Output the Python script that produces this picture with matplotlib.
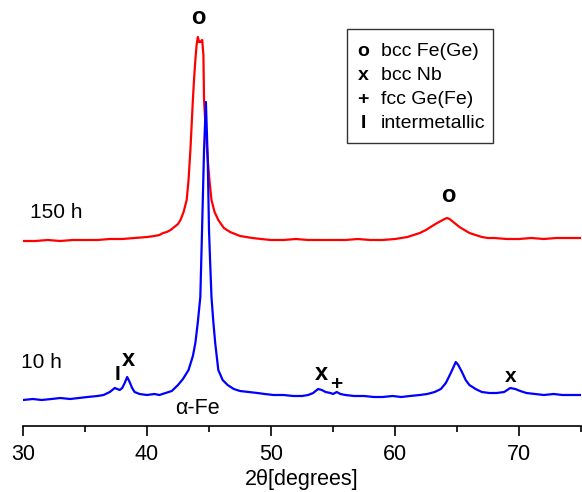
import matplotlib.pyplot as plt
from matplotlib.patches import Rectangle

plt.rcParams['font.family'] = ['Liberation Sans', 'DejaVu Sans']

# 2theta (degrees) and intensity (arb. units)
two_theta_10h = [30, 30.8, 31.5, 32.3, 33, 33.8, 34.5, 35.2, 36, 36.5, 37, 37.2, 37.4, 37.6,
                 37.8, 38.0, 38.2, 38.4, 38.6, 38.8, 39.0, 39.4, 40, 40.6, 41, 41.5, 42,
                 42.5, 42.9, 43.35, 43.7, 43.9, 44.1, 44.3, 44.44, 44.6, 44.75, 44.9, 45.0,
                 45.1, 45.2, 45.35, 45.5, 45.75, 46.1, 46.5, 47, 47.5, 48.2, 48.9, 49.5,
                 50.2, 51, 51.8, 52.5, 53, 53.4, 53.8, 54.1, 54.4, 54.8, 55.0, 55.3, 55.6,
                 56, 56.7, 57.5, 58.3, 59, 59.8, 60.5, 61.2, 62, 62.6, 63.2, 63.7, 64.1,
                 64.5, 64.9, 65.1, 65.4, 65.7, 66, 66.5, 67, 67.6, 68.2, 68.8, 69.3, 69.7,
                 70.1, 70.6, 71.3, 72, 72.8, 73.5, 74.2, 75]
counts_10h = [0, 1, 0, 1, 2, 1, 2, 3, 4, 5, 8, 10, 12, 11,
              10, 12, 17, 23, 18, 12, 8, 6, 5, 6, 5, 7, 9,
              15, 21, 30, 44, 57, 78, 103, 170, 250, 298, 240, 170,
              135, 103, 78, 57, 30, 20, 15, 11, 9, 8, 7, 6,
              5, 5, 4, 4, 5, 7, 11, 10, 8, 7, 6, 8, 6,
              5, 4, 4, 3, 3, 4, 3, 4, 5, 6, 8, 11, 17,
              27, 38, 35, 28, 20, 15, 11, 8, 7, 7, 8, 12, 11,
              9, 7, 6, 5, 6, 5, 5, 5]

two_theta_150h = [30, 31, 32, 33, 34, 35, 36, 37, 38, 39, 40, 40.6, 41, 41.3, 41.6, 41.9,
                  42.2, 42.5, 42.7, 42.95, 43.2, 43.35, 43.5, 43.6, 43.7, 43.8, 43.9, 44.0,
                  44.1, 44.2, 44.3, 44.45, 44.55, 44.6, 44.75, 44.9, 45.05, 45.2, 45.45,
                  45.75, 46.2, 46.7, 47.1, 47.5, 48, 48.5, 49.2, 50, 51, 52, 53, 54, 55,
                  56, 57, 58, 59, 60, 60.5, 61, 61.5, 62, 62.5, 63, 63.4, 63.7, 64.0,
                  64.2, 64.4, 64.6, 64.9, 65.2, 65.6, 66, 66.5, 67, 67.5, 68, 69, 70, 71,
                  72, 73, 74, 75]
counts_150h = [159, 159, 160, 159, 160, 160, 160, 161, 161, 162, 163, 164, 165, 167, 168, 170,
               173, 176, 180, 188, 200, 220, 250, 275, 300, 322, 340, 355,
               363, 358, 358, 360, 345, 300, 268, 240, 218, 200, 188,
               180, 172, 168, 166, 164, 163, 162, 161, 160, 160, 161, 160, 160, 160,
               160, 161, 160, 160, 161, 162, 163, 165, 167, 170, 174, 177, 179, 181,
               182, 181, 179, 176, 173, 170, 167, 165, 163, 162, 162, 161, 161, 162,
               161, 162, 162, 162]

fig = plt.figure(figsize=(5.82, 4.92), dpi=100)
ax = fig.add_axes([23 / 582, 1 - 426 / 492, 558 / 582, 426 / 492])

ax.plot(two_theta_150h, counts_150h, color='#ff0000', lw=1.6)
ax.plot(two_theta_10h, counts_10h, color='#0000ff', lw=1.6)

ax.set_xlim(30, 75)
ax.set_ylim(-26, 400)
for s in ['top', 'right', 'left']:
    ax.spines[s].set_visible(False)
ax.spines['bottom'].set_linewidth(1.2)
ax.set_yticks([])
ax.set_xticks([30, 40, 50, 60, 70])
ax.set_xticks([35, 45, 55, 65, 75], minor=True)
ax.tick_params(axis='x', which='major', length=7, width=1.2, labelsize=15.5, pad=6)
ax.tick_params(axis='x', which='minor', length=4, width=1.2)
ax.set_xlabel('2\u03b8[degrees]', fontsize=15.5, labelpad=3)

# peak markers
ax.text(44.1, 382, 'o', fontsize=17, fontweight='bold', ha='center', va='center')
ax.text(64.3, 205, 'o', fontsize=17, fontweight='bold', ha='center', va='center')
ax.text(37.6, 25, 'I', fontsize=15, fontweight='bold', ha='center', va='center')
ax.text(38.5, 40, 'x', fontsize=17, fontweight='bold', ha='center', va='center')
ax.text(54.1, 26, 'x', fontsize=17, fontweight='bold', ha='center', va='center')
ax.text(55.3, 16, '+', fontsize=15, fontweight='bold', ha='center', va='center')
ax.text(69.3, 23, 'x', fontsize=15, fontweight='bold', ha='center', va='center')
ax.text(44.1, -8, '\u03b1-Fe', fontsize=15.5, ha='center', va='center')
ax.text(30.6, 188, '150 h', fontsize=15, ha='left', va='center')
ax.text(29.8, 38, '10 h', fontsize=15, ha='left', va='center')

# key box
fig.patches.append(Rectangle((347 / 582, 1 - 143 / 492), 146 / 582, 114 / 492,
                             transform=fig.transFigure, fill=False,
                             edgecolor='#333333', lw=1.0))
key_symbols = ['o', 'x', '+', 'I']
key_labels = ['bcc Fe(Ge)', 'bcc Nb', 'fcc Ge(Fe)', 'intermetallic']
for i, (sym, lab) in enumerate(zip(key_symbols, key_labels)):
    y = 1 - (52 + 23.7 * i) / 492
    fig.text(363 / 582, y, sym, fontsize=14, fontweight='bold', ha='center', va='center')
    fig.text(381 / 582, y, lab, fontsize=14, ha='left', va='center')

fig.savefig('out.png', dpi=100)
